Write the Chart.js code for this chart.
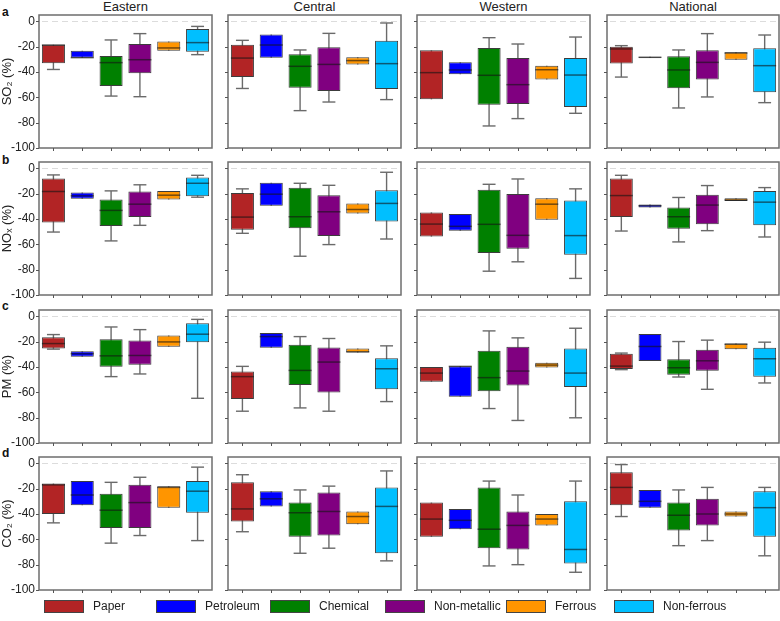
<!DOCTYPE html>
<html>
<head>
<meta charset="utf-8">
<script src="https://cdn.jsdelivr.net/npm/chart.js@4.4.1/dist/chart.umd.min.js"></script>
<style>
  html, body { margin: 0; padding: 0; background: #fff; }
  body { width: 780px; height: 621px; position: relative; overflow: hidden;
         font-family: "Liberation Sans", Arial, "DejaVu Sans", sans-serif; color: #222; }
  canvas { position: absolute; }
  .col-title { position: absolute; top: -1px; font-size: 13px; line-height: 15px; text-align: center; color: #222; }
  .row-tag { position: absolute; left: 2px; font-size: 12px; line-height: 14px; font-weight: bold; color: #111; }
  .legend-item { position: absolute; top: 598px; height: 16px; display: flex; align-items: center; font-size: 12px; color: #222; white-space: nowrap; }
  .legend-item span.sw { display: inline-block; width: 40px; height: 13px; box-sizing: border-box; border: 1px solid #444; margin-right: 9px; }
</style>
</head>
<body>
<script>
// Sectors and colours
const sectors = ["Paper", "Petroleum", "Chemical", "Non-metallic", "Ferrous", "Non-ferrous"];
const sectorColors = ["#B22425", "#0000FF", "#008000", "#800080", "#FF9500", "#00BFFF"];
const regions = ["Eastern", "Central", "Western", "National"];
const pollutantTitles = ["SO\u2082 (%)", "NO\u2093 (%)", "PM (%)", "CO\u2082 (%)"];
const rowTags = ["a", "b", "c", "d"];
const yTicks = [0, -20, -40, -60, -80, -100];

// Each entry: [min, q1, median, q3, max] per sector, percent change
const so2Eastern = [[-38, -33, -18.7, -18.5, -18.5], [-28.7, -28.7, -28.7, -23.2, -23.2], [-59, -51, -32.6, -27.4, -14.7], [-59.5, -41, -30.3, -17.9, -9.7], [-23.2, -23.2, -21, -16, -16], [-26.3, -24, -16.8, -6, -4]];
const so2Central = [[-53, -44, -29, -18.4, -15], [-28.7, -28.7, -18.7, -10.3, -10.3], [-70.5, -52.4, -35.5, -26, -22.6], [-63.7, -55, -34, -20.5, -9.5], [-34, -34, -31, -28.4, -28.4], [-61.8, -53.4, -33.4, -15.3, -1.3]];
const so2Western = [[-61.6, -61.6, -40.5, -22.9, -22.9], [-41.8, -41.8, -38.4, -32.4, -32.4], [-82.6, -65.8, -42.6, -21, -12.9], [-76.8, -65.3, -50, -29, -17.9], [-46, -46, -38.2, -35, -35], [-72.6, -67.6, -42.4, -29, -12.4]];
const so2National = [[-44, -33.2, -21.8, -20, -19.2], [-28.8, -28.8, -28.4, -28, -28], [-68.4, -52.9, -38.4, -27.6, -22.6], [-59.7, -46, -32.4, -22.9, -9.7], [-30.3, -30.3, -25, -24.5, -24.5], [-64.2, -56, -35, -21.3, -10.8]];

const noxEastern = [[-50.3, -42.7, -18.3, -8.1, -5.2], [-24.1, -24.1, -21.7, -19.1, -19.1], [-57.3, -45.5, -33.2, -24.6, -17.8], [-45, -38.5, -28.3, -18.3, -13], [-24.6, -24.6, -21.2, -17.8, -17.8], [-22.8, -22, -11.8, -7.3, -5.5]];
const noxCentral = [[-51.3, -48.4, -38.5, -19.4, -16.2], [-29.6, -29.6, -20.4, -11.3, -11.3], [-69.4, -47.4, -38.2, -15.4, -11.8], [-60.2, -53.4, -34.3, -21.2, -13.4], [-35.6, -35.6, -32.5, -27.7, -27.7], [-55.8, -41.9, -27.7, -17.3, -3.1]];
const noxWestern = [[-53.9, -53.9, -44, -34.8, -34.8], [-49.2, -49.2, -45.8, -36.1, -36.1], [-81.2, -66.8, -44.2, -17, -12.6], [-73.8, -63.4, -52.9, -20.2, -8.4], [-40.6, -40.6, -28.3, -23.6, -23.6], [-86.9, -68.3, -53.1, -25.4, -16.2]];
const noxNational = [[-49.5, -38.5, -21.5, -8.1, -5.5], [-30.9, -30.9, -29.5, -28.5, -28.5], [-58.1, -47.6, -38.2, -30.9, -23], [-49.2, -44.2, -29, -20.9, -13.6], [-25.7, -25.7, -25, -23.6, -23.6], [-54.2, -45, -26.7, -17.8, -15.2]];

const pmEastern = [[-25.9, -25.4, -21.5, -16.5, -14.4], [-31.9, -31.9, -29.5, -27.5, -27.5], [-47.6, -39.8, -31.2, -18, -8.4], [-45.5, -38.2, -30.9, -19.1, -10.5], [-24.1, -24.1, -20.2, -15.2, -15.2], [-64.7, -20.4, -14.1, -5.5, -2.4]];
const pmCentral = [[-74.9, -65.2, -47.6, -43.5, -39.5], [-24.9, -24.9, -16, -13.1, -13.1], [-72.3, -54.2, -42.7, -22.5, -16], [-74.9, -60.2, -36.1, -24.6, -17.5], [-28.5, -28.5, -28, -25.4, -25.4], [-67.3, -57.6, -41.4, -33, -23.3]];
const pmWestern = [[-51.6, -51.6, -44.8, -40, -40], [-63.4, -63.4, -39.5, -39.5, -39.5], [-72.8, -59.2, -48.4, -27.2, -11.5], [-82.2, -54.7, -43.2, -24.1, -17], [-40.3, -40.3, -38.5, -36.6, -36.6], [-80.1, -55.8, -44.8, -25.4, -9.4]];
const pmNational = [[-42.1, -41.6, -39.3, -29.6, -29], [-35.3, -35.3, -23.8, -13.9, -13.9], [-47.9, -46.1, -40.6, -33.8, -19.9], [-57.6, -42.9, -35.1, -26.4, -18.8], [-25.9, -25.9, -22, -21.5, -21.5], [-52.6, -47.6, -33.5, -24.9, -20.4]];

const co2Eastern = [[-47, -40, -17, -16, -16], [-33, -33, -25, -14, -14], [-63, -51, -37, -24, -15], [-57, -51, -31, -17, -11], [-35, -35, -19, -18, -18], [-61, -39, -22, -14, -3]];
const co2Central = [[-54, -46, -36, -15, -9], [-34, -34, -28, -22, -22], [-71, -58, -39, -31, -21], [-67, -57, -38, -23, -18], [-48, -48, -42, -38, -38], [-77, -71, -34, -19, -6]];
const co2Western = [[-58, -58, -44, -31, -31], [-52, -52, -45, -36, -36], [-81, -67, -52, -19, -14], [-80, -68, -49, -38, -25], [-49, -49, -44, -40, -40], [-86, -79, -68, -30, -14]];
const co2National = [[-42, -33, -19, -7, -1], [-35, -35, -30, -21, -21], [-65, -53, -41, -31, -21], [-61, -49, -40, -28, -19], [-42, -42, -40, -38, -38], [-73, -58, -35, -22, -19]];

const panelStats = [
  [so2Eastern, so2Central, so2Western, so2National],
  [noxEastern, noxCentral, noxWestern, noxNational],
  [pmEastern, pmCentral, pmWestern, pmNational],
  [co2Eastern, co2Central, co2Western, co2National]
];

// Panel frame geometry (plot areas)
const frameLeft = [39, 228, 417, 607];
const frameWidth = [173, 173, 173, 172];
const frameTop = [15, 162, 310, 457];
const frameHeight = 133;
const yAxisWidth = 39;
const vPad = 14;
const fontFamily = '"Liberation Sans", Arial, "DejaVu Sans", sans-serif';

// Whiskers, medians, frame, tick marks and the dashed zero reference
const boxDecor = {
  id: 'boxDecor',
  beforeDatasetsDraw(chart) {
    const { ctx, chartArea: a, scales: { x, y } } = chart;
    const stats = chart.options.plugins.boxDecor.stats;
    const meta = chart.getDatasetMeta(0);
    ctx.save();
    ctx.strokeStyle = '#dcdcdc';
    ctx.lineWidth = 1;
    ctx.setLineDash([6, 4]);
    const y0 = Math.round(y.getPixelForValue(0)) + 0.5;
    ctx.beginPath(); ctx.moveTo(a.left + 3, y0); ctx.lineTo(a.right - 3, y0); ctx.stroke();
    ctx.setLineDash([]);
    ctx.strokeStyle = '#6a6a6a';
    ctx.lineWidth = 1.4;
    stats.forEach((s, i) => {
      const cx = x.getPixelForValue(i);
      const half = meta.data[i].width * 0.28;
      const yMin = y.getPixelForValue(s[0]);
      const yMax = y.getPixelForValue(s[4]);
      ctx.beginPath(); ctx.moveTo(cx, yMin); ctx.lineTo(cx, yMax); ctx.stroke();
      if (s[0] < s[1]) { ctx.beginPath(); ctx.moveTo(cx - half, yMin); ctx.lineTo(cx + half, yMin); ctx.stroke(); }
      if (s[4] > s[3]) { ctx.beginPath(); ctx.moveTo(cx - half, yMax); ctx.lineTo(cx + half, yMax); ctx.stroke(); }
    });
    ctx.restore();
  },
  afterDatasetsDraw(chart) {
    const { ctx, chartArea: a, scales: { x, y } } = chart;
    const stats = chart.options.plugins.boxDecor.stats;
    const meta = chart.getDatasetMeta(0);
    ctx.save();
    ctx.strokeStyle = 'rgba(20,20,20,0.6)';
    ctx.lineWidth = 1.5;
    stats.forEach((s, i) => {
      const cx = x.getPixelForValue(i);
      const w = meta.data[i].width / 2;
      const ym = y.getPixelForValue(s[2]);
      ctx.beginPath(); ctx.moveTo(cx - w, ym); ctx.lineTo(cx + w, ym); ctx.stroke();
    });
    // frame
    ctx.strokeStyle = '#6e6e6e';
    ctx.lineWidth = 1.5;
    ctx.strokeRect(a.left, a.top, a.right - a.left, a.bottom - a.top);
    // tick marks
    ctx.strokeStyle = '#555';
    ctx.lineWidth = 1;
    stats.forEach((s, i) => {
      const px = Math.round(x.getPixelForValue(i)) + 0.5;
      ctx.beginPath(); ctx.moveTo(px, a.bottom); ctx.lineTo(px, a.bottom + 3); ctx.stroke();
    });
    yTicks.forEach(v => {
      const py = Math.round(y.getPixelForValue(v)) + 0.5;
      ctx.beginPath(); ctx.moveTo(a.left - 3, py); ctx.lineTo(a.left, py); ctx.stroke();
    });
    ctx.restore();
  }
};

function addText(cls, text, style) {
  const d = document.createElement('div');
  d.className = cls;
  d.textContent = text;
  Object.assign(d.style, style);
  document.body.appendChild(d);
}

regions.forEach((r, c) => {
  addText('col-title', r, { left: frameLeft[c] + 'px', width: frameWidth[c] + 'px' });
});
rowTags.forEach((t, r) => {
  addText('row-tag', t, { top: [5, 153, 299, 446][r] + 'px' });
});

for (let r = 0; r < 4; r++) {
  for (let c = 0; c < 4; c++) {
    const stats = panelStats[r][c];
    const first = c === 0;
    const padLeft = first ? 0 : 6;
    const axisW = first ? yAxisWidth : 0;
    const canvas = document.createElement('canvas');
    const left = frameLeft[c] - axisW - padLeft;
    const top = frameTop[r] - vPad;
    const w = axisW + padLeft + frameWidth[c] + 1;
    const h = vPad + frameHeight + vPad;
    canvas.width = w; canvas.height = h;
    canvas.style.left = left + 'px'; canvas.style.top = top + 'px';
    canvas.style.width = w + 'px'; canvas.style.height = h + 'px';
    document.body.appendChild(canvas);

    const yScale = {
      display: first,
      min: -100,
      max: 5,
      afterBuildTicks(s) { s.ticks = yTicks.map(v => ({ value: v })); },
      grid: { display: false, drawTicks: false },
      border: { display: false },
      ticks: { padding: 4, color: '#222', font: { size: 12, family: fontFamily } },
      title: { display: true, text: pollutantTitles[r], padding: 0, color: '#222', font: { size: 13, family: fontFamily } }
    };
    if (first) yScale.afterFit = s => { s.width = yAxisWidth; };

    new Chart(canvas, {
      type: 'bar',
      data: {
        labels: sectors,
        datasets: [{
          data: stats.map(s => [s[1], s[3]]),
          backgroundColor: sectorColors,
          borderColor: '#3c3c3c',
          borderWidth: 1,
          borderSkipped: false,
          barPercentage: 0.8,
          categoryPercentage: 1
        }]
      },
      options: {
        responsive: false,
        animation: false,
        devicePixelRatio: 1,
        layout: { padding: { top: vPad, bottom: vPad, left: padLeft, right: 1 } },
        plugins: {
          legend: { display: false },
          tooltip: { enabled: false },
          boxDecor: { stats: stats }
        },
        scales: {
          x: { display: false, offset: true },
          y: yScale
        }
      },
      plugins: [boxDecor]
    });
  }
}

// Legend row
const legendLeft = [44, 156, 270, 385, 506, 614];
sectors.forEach((name, i) => {
  const item = document.createElement('div');
  item.className = 'legend-item';
  item.style.left = legendLeft[i] + 'px';
  const sw = document.createElement('span');
  sw.className = 'sw';
  sw.style.background = sectorColors[i];
  item.appendChild(sw);
  item.appendChild(document.createTextNode(name));
  document.body.appendChild(item);
});
</script>
</body>
</html>
